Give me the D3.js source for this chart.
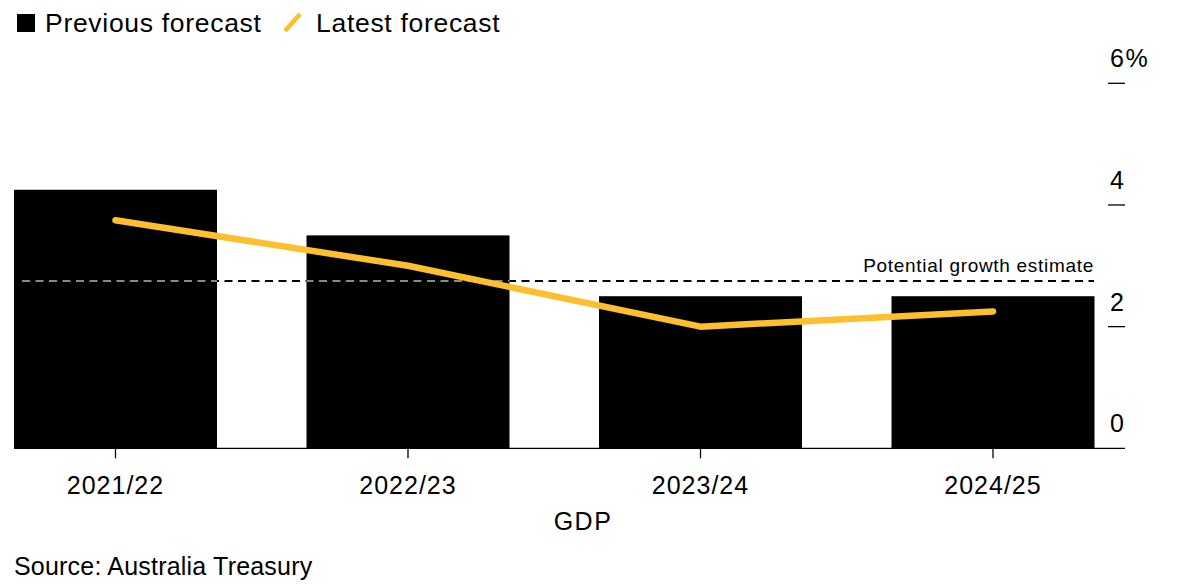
<!DOCTYPE html>
<html><head><meta charset="utf-8">
<script src="https://cdn.jsdelivr.net/npm/d3@7"></script>
<style>body{margin:0;background:#fff}svg{display:block;font-family:"Liberation Sans",Arial,sans-serif}</style>
</head><body><svg id="c" width="1200" height="584"></svg>
<script>
const categories = ["2021/22","2022/23","2023/24","2024/25"];
const previousForecast = [4.25, 3.5, 2.5, 2.5];
const latestForecast = [3.75, 3.0, 2.0, 2.25];
const potentialGrowth = 2.75;
const yTicks = [0, 2, 4, 6];
const yTickLabels = ["0", "2", "4", "6%"];

const svg = d3.select("#c");
const x = d3.scaleBand().domain(categories).range([14, 1094.5]).paddingInner(0.306).paddingOuter(0);
const y = d3.scaleLinear().domain([0, 6]).range([448.3, 83.3]);
const yellow = "#FDBF2D";

// bars
svg.append("g").selectAll("rect").data(categories).join("rect")
  .attr("x", d => x(d)).attr("width", x.bandwidth())
  .attr("y", (d,i) => y(previousForecast[i]))
  .attr("height", (d,i) => y(0) - y(previousForecast[i]))
  .attr("fill", "#000");

// potential growth dashed line
svg.append("line").attr("x1", 22).attr("x2", 1094).attr("y1", y(potentialGrowth)).attr("y2", y(potentialGrowth))
  .attr("stroke", "#000").attr("stroke-width", 2).attr("stroke-dasharray", "8,5.5");
const clip = svg.append("defs").append("clipPath").attr("id","barclip");
clip.selectAll("rect").data(categories).join("rect")
  .attr("x", d => x(d)).attr("width", x.bandwidth())
  .attr("y", (d,i) => y(previousForecast[i]))
  .attr("height", (d,i) => y(0) - y(previousForecast[i]));
svg.append("line").attr("x1", 22).attr("x2", 1094).attr("y1", y(potentialGrowth)).attr("y2", y(potentialGrowth))
  .attr("stroke", "#888").attr("stroke-width", 2).attr("stroke-dasharray", "8,5.5").attr("clip-path","url(#barclip)");
svg.append("text").attr("x", 1094).attr("y", y(potentialGrowth) - 9).attr("text-anchor","end")
  .attr("font-size", 19).attr("letter-spacing", 0.7).attr("fill","#000").text("Potential growth estimate");

// latest forecast line
const line = d3.line().x((d,i) => x(categories[i]) + x.bandwidth()/2).y(d => y(d));
svg.append("path").datum(latestForecast).attr("d", line).attr("fill","none")
  .attr("stroke", yellow).attr("stroke-width", 6.5).attr("stroke-linecap","round").attr("stroke-linejoin","round");

// x axis
const xAxis = svg.append("g").attr("transform", `translate(0,${y(0)})`);
xAxis.append("line").attr("x1", 14).attr("x2", 1125).attr("stroke","#000").attr("stroke-width",1.3);
xAxis.selectAll("line.t").data(categories).join("line").attr("class","t")
  .attr("x1", d => x(d)+x.bandwidth()/2).attr("x2", d => x(d)+x.bandwidth()/2)
  .attr("y1", 0).attr("y2", 10).attr("stroke","#000").attr("stroke-width",1.3);
xAxis.selectAll("text").data(categories).join("text")
  .attr("x", d => x(d)+x.bandwidth()/2).attr("y", 46).attr("text-anchor","middle")
  .attr("font-size", 25).attr("letter-spacing", 1).attr("fill","#000").text(d => d);

svg.append("text").attr("x", 583).attr("y", 530).attr("text-anchor","middle").attr("font-size",25)
  .attr("letter-spacing", 1.5).text("GDP");

// y axis (right)
const yAxis = svg.append("g");
yAxis.selectAll("line").data(yTicks.filter(t => t>0)).join("line")
  .attr("x1", 1108).attr("x2", 1125).attr("y1", d => y(d)).attr("y2", d => y(d))
  .attr("stroke","#000").attr("stroke-width",1.3);
yAxis.selectAll("text").data(yTicks).join("text")
  .attr("x", 1110).attr("y", d => y(d) - 16).attr("font-size", 25).attr("letter-spacing", 1.5).attr("fill","#000")
  .text((d,i) => yTickLabels[i]);

// legend
const lg = svg.append("g");
lg.append("rect").attr("x",17).attr("y",14).attr("width",18).attr("height",18).attr("fill","#000");
lg.append("text").attr("x",45).attr("y",32).attr("font-size",26.5).attr("letter-spacing",0.7).text("Previous forecast");
lg.append("line").attr("x1",285).attr("y1",31).attr("x2",300).attr("y2",14)
  .attr("stroke",yellow).attr("stroke-width",4.5);
lg.append("text").attr("x",316).attr("y",32).attr("font-size",26.5).attr("letter-spacing",0.7).text("Latest forecast");

svg.append("text").attr("x",14).attr("y",575).attr("font-size",25).attr("letter-spacing",0.2).text("Source: Australia Treasury");
</script></body></html>
